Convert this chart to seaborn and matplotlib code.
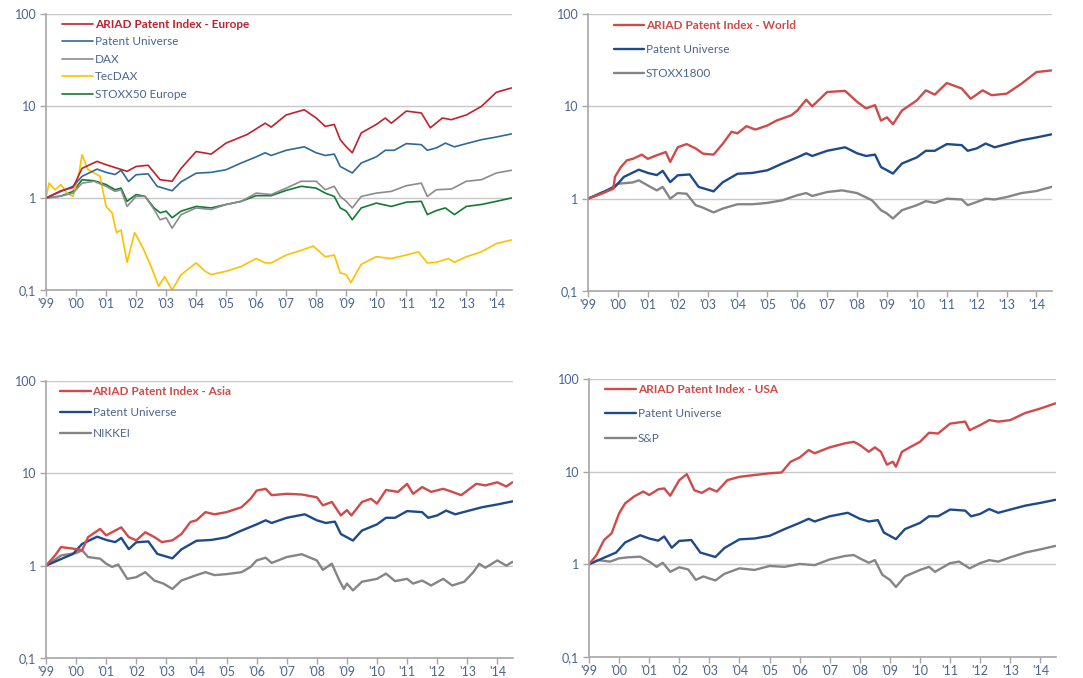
import numpy as np
import pandas as pd
import matplotlib
matplotlib.use("Agg")
import matplotlib.pyplot as plt
import seaborn as sns
from matplotlib.ticker import NullLocator, FixedLocator

# ---------------- data ----------------
pu_t = [1999.0, 1999.5, 1999.9, 2000.2, 2000.7, 2001.0, 2001.3, 2001.5, 2001.75, 2002.0, 2002.4, 2002.7,
        2003.2, 2003.5, 2004.0, 2004.5, 2005.0, 2005.5, 2006.0, 2006.3, 2006.5, 2007.0, 2007.6, 2008.0,
        2008.3, 2008.6, 2008.8, 2009.0, 2009.2, 2009.5, 2010.0, 2010.3, 2010.6, 2011.0, 2011.5, 2011.7,
        2012.0, 2012.3, 2012.6, 2013.0, 2013.5, 2014.0, 2014.5]
pu_v = [1.0, 1.18, 1.34, 1.72, 2.06, 1.9, 1.8, 2.0, 1.51, 1.79, 1.83, 1.34,
        1.2, 1.5, 1.86, 1.9, 2.03, 2.4, 2.8, 3.1, 2.9, 3.3, 3.6, 3.1,
        2.9, 3.0, 2.2, 2.03, 1.87, 2.4, 2.8, 3.3, 3.3, 3.9, 3.8, 3.3,
        3.5, 3.95, 3.6, 3.9, 4.3, 4.6, 4.97]

eu_t = [1999.0, 1999.5, 1999.9, 2000.2, 2000.7, 2001.0, 2001.7, 2002.0, 2002.4, 2002.8, 2003.2, 2003.5,
        2004.0, 2004.5, 2005.0, 2005.7, 2006.3, 2006.5, 2007.0, 2007.6, 2008.0, 2008.3, 2008.6, 2008.8,
        2009.0, 2009.2, 2009.5, 2010.0, 2010.3, 2010.5, 2011.0, 2011.5, 2011.8, 2012.2, 2012.5, 2013.0,
        2013.5, 2014.0, 2014.5]
eu_v = [1.0, 1.2, 1.3, 2.1, 2.5, 2.3, 1.95, 2.2, 2.27, 1.58, 1.52, 2.1,
        3.2, 3.0, 3.96, 4.9, 6.5, 5.9, 8.0, 9.1, 7.4, 6.0, 6.3, 4.3,
        3.6, 3.1, 5.1, 6.3, 7.4, 6.5, 8.8, 8.4, 5.8, 7.4, 7.1, 8.0,
        9.9, 14.1, 15.7]

dax_t = [1999.0, 1999.5, 1999.9, 2000.2, 2000.6, 2001.0, 2001.3, 2001.5, 2001.7, 2002.0, 2002.3, 2002.6,
         2002.8, 2003.0, 2003.2, 2003.5, 2004.0, 2004.5, 2005.0, 2005.5, 2006.0, 2006.5, 2007.0, 2007.5,
         2008.0, 2008.3, 2008.6, 2008.8, 2009.0, 2009.2, 2009.5, 2010.0, 2010.5, 2011.0, 2011.5, 2011.7,
         2012.0, 2012.5, 2013.0, 2013.5, 2014.0, 2014.5]
dax_v = [1.0, 1.05, 1.13, 1.45, 1.52, 1.34, 1.18, 1.23, 0.81, 1.04, 1.04, 0.75,
         0.58, 0.61, 0.47, 0.66, 0.78, 0.75, 0.85, 0.92, 1.13, 1.09, 1.28, 1.52,
         1.52, 1.23, 1.34, 1.04, 0.92, 0.78, 1.04, 1.13, 1.18, 1.36, 1.45, 1.04,
         1.23, 1.25, 1.52, 1.58, 1.87, 2.0]

tec_t = [1999.0, 1999.1, 1999.3, 1999.5, 1999.7, 1999.9, 2000.1, 2000.2, 2000.4, 2000.6, 2000.8, 2001.0,
         2001.2, 2001.35, 2001.5, 2001.7, 2001.95, 2002.2, 2002.5, 2002.75, 2002.95, 2003.2, 2003.5, 2004.0,
         2004.3, 2004.5, 2005.0, 2005.5, 2006.0, 2006.3, 2006.5, 2007.0, 2007.5, 2007.9, 2008.3, 2008.6,
         2008.8, 2009.0, 2009.15, 2009.5, 2010.0, 2010.5, 2011.0, 2011.4, 2011.7, 2012.0, 2012.4, 2012.6,
         2013.0, 2013.5, 2014.0, 2014.5]
tec_v = [1.0, 1.45, 1.23, 1.4, 1.13, 1.04, 1.87, 2.95, 2.03, 1.87, 1.72, 0.81,
         0.69, 0.42, 0.45, 0.2, 0.42, 0.3, 0.18, 0.11, 0.14, 0.1, 0.147, 0.197,
         0.16, 0.147, 0.16, 0.18, 0.22, 0.197, 0.197, 0.24, 0.27, 0.3, 0.23, 0.24,
         0.153, 0.147, 0.12, 0.19, 0.23, 0.22, 0.24, 0.26, 0.197, 0.2, 0.22, 0.2,
         0.23, 0.26, 0.32, 0.35]

sx50_t = [1999.0, 1999.5, 1999.9, 2000.2, 2000.6, 2001.0, 2001.3, 2001.5, 2001.7, 2002.0, 2002.3, 2002.6,
          2002.8, 2003.0, 2003.2, 2003.5, 2004.0, 2004.5, 2005.0, 2005.5, 2006.0, 2006.5, 2007.0, 2007.5,
          2008.0, 2008.3, 2008.6, 2008.8, 2009.0, 2009.2, 2009.5, 2010.0, 2010.5, 2011.0, 2011.5, 2011.7,
          2012.0, 2012.3, 2012.6, 2013.0, 2013.5, 2014.0, 2014.5]
sx50_v = [1.0, 1.05, 1.18, 1.58, 1.54, 1.4, 1.23, 1.28, 0.92, 1.09, 1.04, 0.78,
          0.69, 0.72, 0.61, 0.72, 0.81, 0.78, 0.85, 0.92, 1.06, 1.06, 1.21, 1.34,
          1.28, 1.13, 1.04, 0.78, 0.72, 0.58, 0.78, 0.88, 0.81, 0.9, 0.92, 0.66,
          0.73, 0.78, 0.66, 0.81, 0.85, 0.92, 1.0]

wd_t = [1999.0, 1999.5, 1999.85, 1999.9, 2000.1, 2000.3, 2000.5, 2000.8, 2001.0, 2001.3, 2001.6, 2001.75,
        2002.0, 2002.3, 2002.6, 2002.85, 2003.2, 2003.5, 2003.8, 2004.0, 2004.3, 2004.6, 2005.0, 2005.3,
        2005.8, 2006.0, 2006.3, 2006.5, 2007.0, 2007.6, 2008.0, 2008.3, 2008.6, 2008.8, 2009.0, 2009.2,
        2009.5, 2010.0, 2010.3, 2010.6, 2011.0, 2011.5, 2011.8, 2012.2, 2012.5, 2013.0, 2013.5, 2014.0,
        2014.5]
wd_v = [1.0, 1.15, 1.28, 1.72, 2.2, 2.6, 2.7, 3.0, 2.7, 2.95, 3.2, 2.5,
        3.6, 3.9, 3.5, 3.07, 3.0, 3.9, 5.3, 5.1, 6.1, 5.6, 6.2, 7.0,
        8.0, 9.0, 11.8, 10.0, 14.3, 14.7, 11.2, 9.5, 10.3, 7.0, 7.6, 6.4,
        9.0, 11.6, 14.9, 13.4, 17.9, 15.6, 12.1, 14.9, 13.2, 13.7, 17.6, 23.5,
        24.5]

s1800_t = [1999.0, 1999.5, 2000.0, 2000.5, 2000.7, 2001.0, 2001.3, 2001.5, 2001.75, 2002.0, 2002.3, 2002.6,
           2002.8, 2003.2, 2003.5, 2004.0, 2004.5, 2005.0, 2005.5, 2006.0, 2006.3, 2006.5, 2007.0, 2007.5,
           2008.0, 2008.5, 2008.8, 2009.0, 2009.2, 2009.5, 2010.0, 2010.3, 2010.6, 2011.0, 2011.5, 2011.7,
           2012.0, 2012.3, 2012.6, 2013.0, 2013.5, 2014.0, 2014.5]
s1800_v = [1.0, 1.15, 1.45, 1.5, 1.58, 1.39, 1.23, 1.34, 1.0, 1.15, 1.13, 0.85,
           0.81, 0.71, 0.78, 0.87, 0.87, 0.9, 0.96, 1.09, 1.15, 1.07, 1.18, 1.23,
           1.15, 0.96, 0.75, 0.69, 0.61, 0.75, 0.85, 0.94, 0.9, 1.0, 0.98, 0.85,
           0.92, 1.0, 0.98, 1.04, 1.15, 1.21, 1.34]

as_t = [1999.0, 1999.3, 1999.5, 1999.9, 2000.2, 2000.4, 2000.8, 2001.0, 2001.3, 2001.5, 2001.75, 2002.0,
        2002.3, 2002.6, 2002.85, 2003.2, 2003.5, 2003.8, 2004.0, 2004.3, 2004.6, 2005.0, 2005.5, 2005.8,
        2006.0, 2006.3, 2006.5, 2007.0, 2007.5, 2008.0, 2008.2, 2008.5, 2008.8, 2009.0, 2009.15, 2009.5,
        2009.8, 2010.0, 2010.3, 2010.7, 2011.0, 2011.2, 2011.5, 2011.8, 2012.2, 2012.5, 2012.8, 2013.3,
        2013.6, 2014.0, 2014.3, 2014.5]
as_v = [1.0, 1.29, 1.59, 1.53, 1.47, 2.04, 2.5, 2.13, 2.4, 2.6, 2.04, 1.88,
        2.3, 2.04, 1.8, 1.88, 2.2, 2.97, 3.1, 3.8, 3.6, 3.8, 4.3, 5.3,
        6.5, 6.8, 5.8, 6.0, 5.9, 5.5, 4.5, 4.9, 3.5, 4.0, 3.5, 4.9,
        5.3, 4.7, 6.6, 6.3, 7.7, 6.0, 7.1, 6.3, 6.8, 6.3, 5.8, 7.7,
        7.4, 8.0, 7.2, 8.0]

nk_t = [1999.0, 1999.5, 2000.0, 2000.2, 2000.4, 2000.8, 2001.0, 2001.2, 2001.4, 2001.7, 2002.0, 2002.3,
        2002.6, 2002.9, 2003.2, 2003.5, 2004.0, 2004.3, 2004.6, 2005.0, 2005.5, 2005.8, 2006.0, 2006.3,
        2006.5, 2007.0, 2007.5, 2008.0, 2008.2, 2008.5, 2008.75, 2008.9, 2009.0, 2009.2, 2009.5, 2010.0,
        2010.3, 2010.6, 2011.0, 2011.2, 2011.5, 2011.8, 2012.2, 2012.5, 2012.9, 2013.2, 2013.4, 2013.6,
        2014.0, 2014.3, 2014.5]
nk_v = [1.0, 1.29, 1.37, 1.47, 1.24, 1.19, 1.05, 0.97, 1.03, 0.72, 0.75, 0.85,
        0.69, 0.64, 0.56, 0.69, 0.79, 0.85, 0.79, 0.81, 0.85, 0.97, 1.14, 1.22,
        1.07, 1.24, 1.33, 1.14, 0.9, 1.05, 0.69, 0.56, 0.64, 0.54, 0.67, 0.72,
        0.82, 0.68, 0.72, 0.64, 0.69, 0.61, 0.72, 0.61, 0.67, 0.85, 1.05, 0.95,
        1.14, 1.0, 1.1]

us_t = [1999.0, 1999.25, 1999.5, 1999.75, 2000.0, 2000.2, 2000.5, 2000.8, 2001.0, 2001.3, 2001.5, 2001.7,
        2002.0, 2002.25, 2002.5, 2002.75, 2003.0, 2003.25, 2003.6, 2004.0, 2004.5, 2005.0, 2005.4, 2005.7,
        2006.0, 2006.3, 2006.5, 2007.0, 2007.5, 2007.8, 2008.0, 2008.3, 2008.5, 2008.7, 2008.9, 2009.1,
        2009.2, 2009.4, 2009.7, 2010.0, 2010.3, 2010.6, 2011.0, 2011.5, 2011.65, 2012.0, 2012.3, 2012.6,
        2013.0, 2013.5, 2014.0, 2014.5]
us_v = [1.0, 1.26, 1.83, 2.16, 3.55, 4.55, 5.4, 6.1, 5.6, 6.45, 6.6, 5.5,
        8.1, 9.4, 6.3, 5.9, 6.6, 6.1, 8.1, 8.8, 9.2, 9.6, 9.8, 12.8,
        14.2, 17.1, 15.8, 18.3, 20.2, 21.0, 19.4, 16.4, 18.3, 16.4, 11.9, 12.8,
        11.3, 16.4, 18.6, 21.0, 26.3, 25.8, 33.0, 34.7, 28.0, 31.8, 36.0, 34.7,
        36.0, 43.0, 48.0, 54.6]

sp_t = [1999.0, 1999.3, 1999.7, 2000.0, 2000.3, 2000.7, 2001.0, 2001.25, 2001.45, 2001.7, 2002.0, 2002.3,
        2002.55, 2002.8, 2003.2, 2003.5, 2004.0, 2004.5, 2005.0, 2005.5, 2006.0, 2006.5, 2007.0, 2007.5,
        2007.8, 2008.0, 2008.3, 2008.5, 2008.75, 2009.0, 2009.2, 2009.5, 2010.0, 2010.3, 2010.5, 2011.0,
        2011.3, 2011.65, 2012.0, 2012.3, 2012.6, 2013.0, 2013.5, 2014.0, 2014.5]
sp_v = [1.0, 1.11, 1.07, 1.16, 1.19, 1.21, 1.07, 0.94, 1.04, 0.83, 0.93, 0.88,
        0.68, 0.74, 0.67, 0.79, 0.905, 0.87, 0.96, 0.94, 1.01, 0.98, 1.13, 1.23,
        1.26, 1.16, 1.04, 1.11, 0.77, 0.68, 0.57, 0.74, 0.87, 0.94, 0.83, 1.03,
        1.07, 0.905, 1.03, 1.11, 1.07, 1.19, 1.34, 1.45, 1.58]

year_ticks = list(range(1999, 2015))
year_labels = ["'99", "'00", "'01", "'02", "'03", "'04", "'05", "'06", "'07", "'08",
               "'09", "'10", "'11", "'12", "'13", "'14"]
y_ticks = [0.1, 1, 10, 100]
y_labels = ["0,1", "1", "10", "100"]

# ---------------- styling ----------------
sns.set_theme(style="white")
plt.rcParams['font.family'] = ['Lato', 'DejaVu Sans']

TXT = "#4A6590"
AXC = "#A6A6A6"
GRID = "#C8C8C8"

fig = plt.figure(figsize=(10.83, 6.78), dpi=100)
W, H = 1083, 678

def make_ax(l, r, t, b):
    return fig.add_axes([l / W, 1 - b / H, (r - l) / W, (b - t) / H])

axes = [make_ax(46, 512, 14, 290), make_ax(588, 1052, 14, 291),
        make_ax(46, 513, 381, 658), make_ax(589, 1056, 379, 657)]

panels = [
    [("ARIAD Patent Index - Europe", eu_t, eu_v, "#C0212E", 1.2),
     ("Patent Universe", pu_t, pu_v, "#2E6A98", 1.2),
     ("DAX", dax_t, dax_v, "#8C8C8C", 1.2),
     ("TecDAX", tec_t, tec_v, "#FFC000", 1.2),
     ("STOXX50 Europe", sx50_t, sx50_v, "#137A34", 1.2)],
    [("ARIAD Patent Index - World", wd_t, wd_v, "#D04A4A", 1.7),
     ("Patent Universe", pu_t, pu_v, "#1F4A8A", 1.7),
     ("STOXX1800", s1800_t, s1800_v, "#858585", 1.7)],
    [("ARIAD Patent Index - Asia", as_t, as_v, "#D04A4A", 1.7),
     ("Patent Universe", pu_t, pu_v, "#1F4A8A", 1.7),
     ("NIKKEI", nk_t, nk_v, "#858585", 1.7)],
    [("ARIAD Patent Index - USA", us_t, us_v, "#D04A4A", 1.7),
     ("Patent Universe", pu_t, pu_v, "#1F4A8A", 1.7),
     ("S&P", sp_t, sp_v, "#858585", 1.7)],
]

legend_spacing = [0.55, 1.1, 0.85, 1.15]
legend_anchor = [(0.025, 1.0), (0.045, 0.995), (0.02, 1.0), (0.025, 1.0)]

for i, (ax, series) in enumerate(zip(axes, panels)):
    ax.set_yscale("log")
    for yv in [1, 10, 100]:
        ax.axhline(yv, color=GRID, lw=1.0, zorder=0)
    for name, t, v, c, lw in reversed(series):
        df = pd.DataFrame({"t": t, "v": v})
        sns.lineplot(data=df, x="t", y="v", ax=ax, color=c, lw=lw, label=name,
                     estimator=None, sort=False)
    ax.set_xlim(1999, 2014.52)
    ax.set_ylim(0.1, 100)
    ax.set_xlabel("")
    ax.set_ylabel("")
    ax.xaxis.set_major_locator(FixedLocator(year_ticks))
    ax.set_xticklabels(year_labels)
    ax.yaxis.set_major_locator(FixedLocator(y_ticks))
    ax.yaxis.set_minor_locator(NullLocator())
    ax.set_yticklabels(y_labels)
    ax.tick_params(axis="x", length=4, width=1, color=AXC, labelcolor=TXT, labelsize=9, pad=2,
                   bottom=True, direction="out")
    ax.tick_params(axis="y", length=4, width=1, color=AXC, labelcolor=TXT, labelsize=9, pad=3,
                   left=True, direction="out")
    for s in ["top", "right"]:
        ax.spines[s].set_visible(False)
    for s in ["left", "bottom"]:
        ax.spines[s].set_color(AXC)
        ax.spines[s].set_linewidth(1.2)
    ax.set_facecolor("white")

    handles, labels = ax.get_legend_handles_labels()
    handles, labels = handles[::-1], labels[::-1]
    leg = ax.legend(handles, labels, loc="upper left", bbox_to_anchor=legend_anchor[i],
                    frameon=False, fontsize=8.5, handlelength=2.6, handletextpad=0.15,
                    labelspacing=legend_spacing[i], borderaxespad=0.0)
    for j, txt in enumerate(leg.get_texts()):
        if j == 0:
            txt.set_color(series[0][3])
            txt.set_fontweight("bold")
        else:
            txt.set_color(TXT)

fig.savefig("out.png", dpi=100, facecolor="white")
